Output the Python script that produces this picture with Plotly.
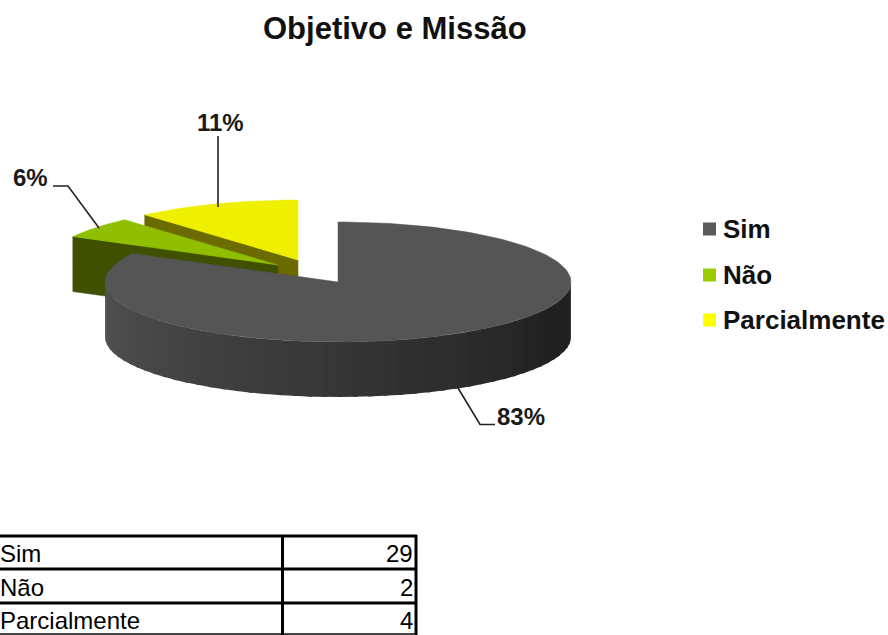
import numpy as np
import plotly.graph_objects as go

TITLE = "Objetivo e Missão"
categories = ["Sim", "Não", "Parcialmente"]
values = [29, 2, 4]
percent_labels = ["83%", "6%", "11%"]

top_colors = ["#555555", "#8fbf00", "#eef000"]
cut_colors = ["#505050", "#3f5000", "#6b6b00"]
legend_colors = ["#5a5a5a", "#99cc00", "#ffff00"]
centers = [(338, 282), (278, 265), (298, 260)]
RX, RY, DEPTH = 233, 60, 55
FONT = "Liberation Sans, Arial, sans-serif"

total = sum(values)
edges = np.concatenate([[0], np.cumsum(values)]) / total * 2 * np.pi


def rim(center, a, dy=0):
    return center[0] + RX * np.sin(a), center[1] - RY * np.cos(a) + dy


def poly(xs, ys, color, width=0):
    return go.Scatter(x=list(xs), y=list(ys), mode="lines", fill="toself", fillcolor=color,
                      line=dict(color=color, width=width), hoverinfo="skip", showlegend=False)


def cut_face(center, a, color):
    x, y = rim(center, a)
    cx, cy = center
    return poly([x, cx, cx, x, x], [y, cy, cy + DEPTH, y + DEPTH, y], color, 0.5)


def top_face(center, a0, a1, color):
    t = np.linspace(a0, a1, 160)
    x, y = rim(center, t)
    return poly(np.r_[center[0], x, center[0]], np.r_[center[1], y, center[1]], color, 0.5)


fig = go.Figure()

# Parcialmente (back), then Não, then the big Sim slice in front
fig.add_trace(cut_face(centers[2], edges[2], cut_colors[2]))
fig.add_trace(top_face(centers[2], edges[2], edges[3], top_colors[2]))
fig.add_trace(cut_face(centers[1], edges[1], cut_colors[1]))
fig.add_trace(top_face(centers[1], edges[1], edges[2], top_colors[1]))

# Outer wall of Sim with a horizontal shade from left to right
N = 48
bands = np.linspace(np.pi * 3 / 2, np.pi / 2, N + 1)
for i in range(N):
    t = np.linspace(bands[i], bands[i + 1] - (0.02 if i < N - 1 else 0), 6)
    x, y = rim(centers[0], t)
    x2, y2 = rim(centers[0], t[::-1], DEPTH)
    f = i / (N - 1)
    g = int(round(0x52 + (0x21 - 0x52) * min(1, f * 1.15)))
    fig.add_trace(poly(np.r_[x, x2], np.r_[y, y2], f"rgb({g},{g},{g})"))
fig.add_trace(top_face(centers[0], edges[0], edges[1], top_colors[0]))

# Leader lines
leaders = [([458, 480, 495], [388, 424.5, 424.5]),
           ([53, 68, 99], [186, 186, 228]),
           ([218, 218], [136, 207])]
for lx, ly in leaders:
    fig.add_trace(go.Scatter(x=lx, y=ly, mode="lines", line=dict(color="#222222", width=1.6),
                             hoverinfo="skip", showlegend=False))

# Legend
legend_y = [229, 275, 320]
fig.add_trace(go.Scatter(
    x=[709.5] * 3, y=legend_y, mode="markers",
    marker=dict(symbol="square", size=13, color=legend_colors, line=dict(width=0)),
    hoverinfo="skip", showlegend=False))

annotations = [
    dict(x=395, y=28, text=f"<b>{TITLE}</b>", font=dict(family=FONT, size=31, color="#111111")),
    dict(x=521, y=416, text=f"<b>{percent_labels[0]}</b>", font=dict(family=FONT, size=24, color="#1a1a1a")),
    dict(x=30, y=177, text=f"<b>{percent_labels[1]}</b>", font=dict(family=FONT, size=24, color="#1a1a1a")),
    dict(x=220, y=122, text=f"<b>{percent_labels[2]}</b>", font=dict(family=FONT, size=24, color="#1a1a1a")),
]
for name, yy in zip(categories, legend_y):
    annotations.append(dict(x=721, y=yy, xanchor="left", text=f"<b>{name}</b>",
                            font=dict(family=FONT, size=26, color="#111111")))
for a in annotations:
    a.update(xref="x", yref="y", showarrow=False)

# Data table
row_y = [553, 587, 620]
for name, val, yy in zip(categories, values, row_y):
    annotations.append(dict(x=0, y=yy, xref="x", yref="y", xanchor="left", showarrow=False, text=name,
                            font=dict(family=FONT, size=24, color="#000000"), xshift=-2))
    annotations.append(dict(x=415, y=yy, xref="x", yref="y", xanchor="right", showarrow=False, text=str(val),
                            font=dict(family=FONT, size=24, color="#000000")))

shapes = []
for yy in [536, 569, 603]:
    shapes.append(dict(type="line", x0=0, x1=417, y0=yy, y1=yy, line=dict(color="#000000", width=3)))
shapes.append(dict(type="line", x0=0, x1=417, y0=634, y1=634, line=dict(color="#444444", width=2)))
for xx in [282.5, 416]:
    shapes.append(dict(type="line", x0=xx, x1=xx, y0=535, y1=635, line=dict(color="#000000", width=3)))
for s in shapes:
    s.update(xref="x", yref="y")

fig.update_layout(
    width=888, height=635, margin=dict(l=0, r=0, t=0, b=0),
    paper_bgcolor="white", plot_bgcolor="white", showlegend=False,
    xaxis=dict(range=[0, 888], visible=False, fixedrange=True),
    yaxis=dict(range=[635, 0], visible=False, fixedrange=True),
    annotations=annotations, shapes=shapes,
)
fig.write_html("out.html", config={"displayModeBar": False},
               post_script="document.body.style.margin='0';document.body.style.overflow='hidden';")
